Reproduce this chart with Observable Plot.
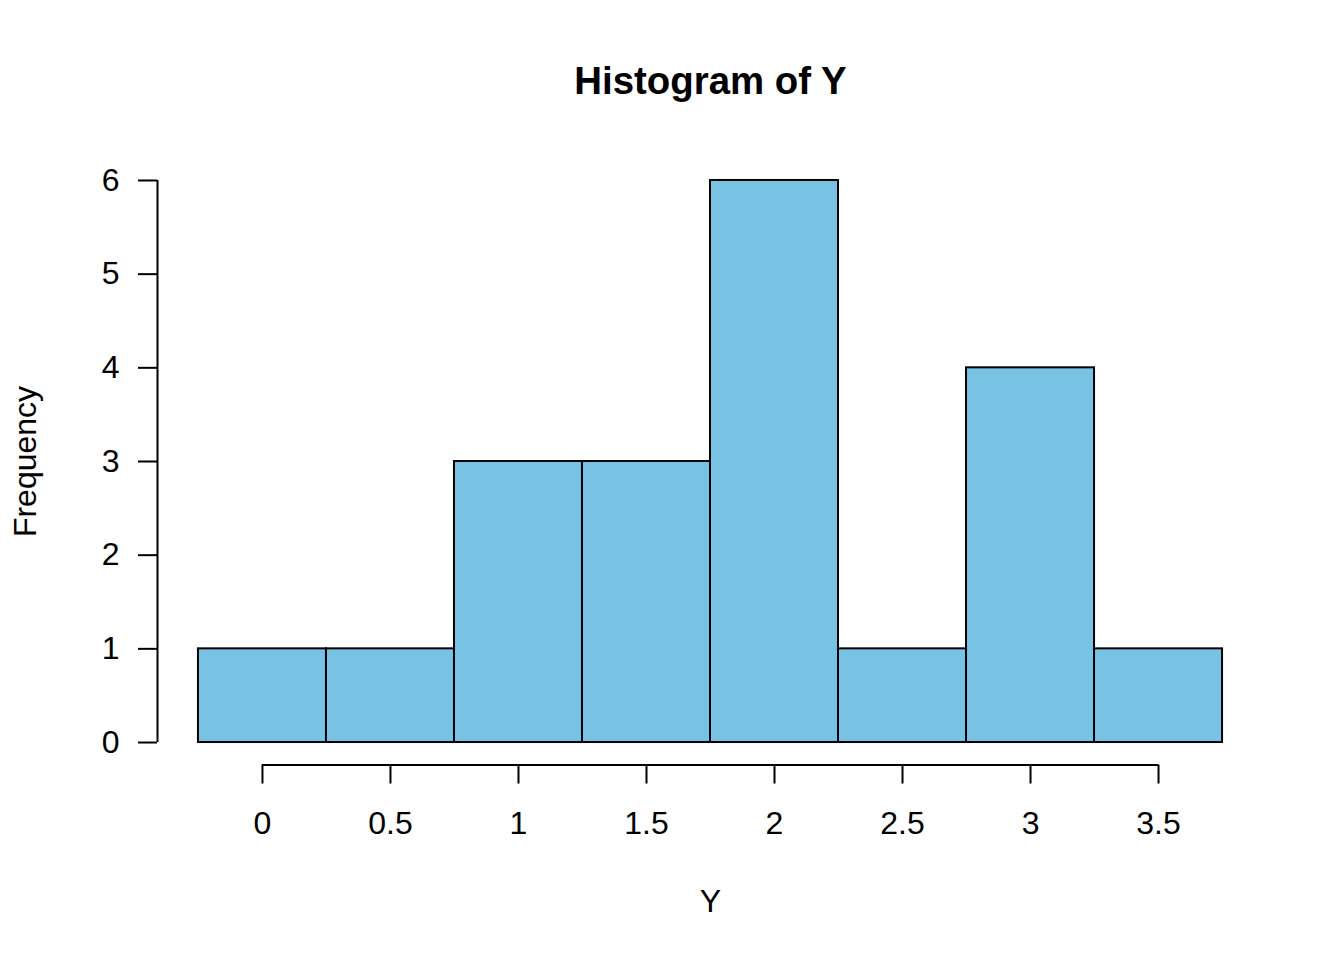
<!DOCTYPE html>
<html>
<head>
<meta charset="utf-8">
<script src="https://cdn.jsdelivr.net/npm/d3@7"></script>
<script src="https://cdn.jsdelivr.net/npm/@observablehq/plot@0.6"></script>
<style>
  html, body { margin: 0; padding: 0; background: #fff; }
  #chart { width: 1344px; height: 960px; }
  #chart svg g[aria-label$="tick"] { stroke-width: 2px; }
</style>
</head>
<body>
<div id="chart"></div>
<script>
// Histogram data (bins of width 0.5)
const binLeft  = [-0.25, 0.25, 0.75, 1.25, 1.75, 2.25, 2.75, 3.25];
const binRight = [ 0.25, 0.75, 1.25, 1.75, 2.25, 2.75, 3.25, 3.75];
const counts   = [1, 1, 3, 3, 6, 1, 4, 1];
const xTicks = [0, 0.5, 1, 1.5, 2, 2.5, 3, 3.5];
const yTicks = [0, 1, 2, 3, 4, 5, 6];
const titleText = "Histogram of Y";
const xLabel = "Y";
const yLabel = "Frequency";

const bins = binLeft.map((l, i) => ({x1: l, x2: binRight[i], count: counts[i]}));

// R-style 4% domain extension
const xmin = d3.min(binLeft), xmax = d3.max(binRight);
const ymin = 0, ymax = d3.max(counts);
const xpad = (xmax - xmin) * 0.04, ypad = (ymax - ymin) * 0.04;

const font = "'Liberation Sans', Arial, Helvetica, sans-serif";

const chart = Plot.plot({
  width: 1344,
  height: 960,
  marginLeft: 157,
  marginRight: 81,
  marginTop: 157.5,
  marginBottom: 195.5,
  style: {fontFamily: font, fontSize: "32px", color: "#000", background: "#fff"},
  x: {
    domain: [xmin - xpad, xmax + xpad],
    ticks: xTicks,
    tickFormat: d => String(d),
    tickSize: 19,
    tickPadding: 27,
    label: null
  },
  y: {
    domain: [ymin - ypad, ymax + ypad],
    ticks: yTicks,
    tickFormat: d => String(d),
    tickSize: 19,
    tickPadding: 19,
    label: null
  },
  marks: [
    Plot.rect(bins, {
      x1: "x1", x2: "x2", y1: () => 0, y2: "count",
      fill: "#78C2E4", stroke: "#000", strokeWidth: 2
    }),
    // axis lines (R style, spanning first to last tick)
    Plot.ruleX([xmin - xpad], {y1: d3.min(yTicks), y2: d3.max(yTicks), stroke: "#000", strokeWidth: 2}),
    Plot.ruleY([ymin - ypad], {x1: d3.min(xTicks), x2: d3.max(xTicks), stroke: "#000", strokeWidth: 2}),
    Plot.text([titleText], {
      frameAnchor: "top", lineAnchor: "bottom", dy: -64.5,
      fontSize: 38.4, fontWeight: "bold", fill: "#000"
    }),
    Plot.text([xLabel], {
      frameAnchor: "bottom", lineAnchor: "bottom", dy: 146.5,
      fontSize: 32, fill: "#000"
    }),
    Plot.text([yLabel], {
      frameAnchor: "left", textAnchor: "middle", lineAnchor: "middle", rotate: -90, dx: -132,
      fontSize: 32, fill: "#000"
    })
  ]
});

document.getElementById("chart").appendChild(chart);
</script>
</body>
</html>
